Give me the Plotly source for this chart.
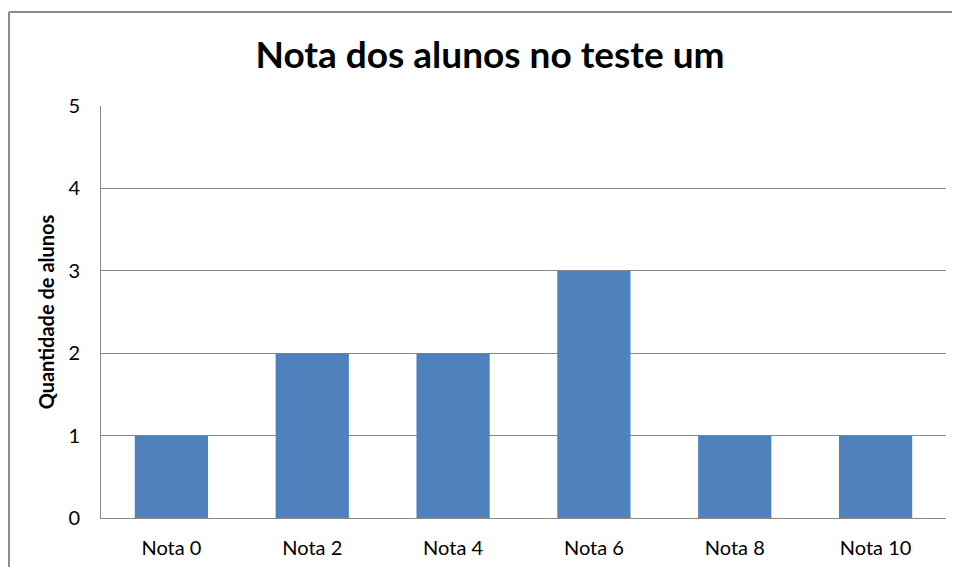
import plotly.graph_objects as go

categories = ["Nota 0", "Nota 2", "Nota 4", "Nota 6", "Nota 8", "Nota 10"]
values = [1, 2, 2, 3, 1, 1]
y_ticks = [0, 1, 2, 3, 4, 5]

W, H = 960, 567
OFF = 8  # page body margin offset
L, R, T, B = 101 - OFF, 960 - (946 - OFF), 106 - OFF, 567 - (518 - OFF)
pw, ph = W - L - R, H - T - B

def px_x(x):
    return (x - OFF - L) / pw

def px_y(y):
    return 1 - (y - OFF - T) / ph

fig = go.Figure()
fig.add_trace(go.Bar(
    x=categories, y=values,
    marker=dict(color="#4F81BD", line=dict(width=0)),
    width=0.52,
))

grid = "#888888"
fig.update_layout(
    width=W, height=H,
    margin=dict(l=L, r=R, t=T, b=B),
    paper_bgcolor="white", plot_bgcolor="white",
    showlegend=False,
    font=dict(family="Lato, Open Sans, sans-serif", color="#000000"),
    title=dict(text="<b>Nota dos alunos no teste um</b>", x=(490 - OFF) / W, xanchor="center",
               y=1 - (55 - OFF) / H, yanchor="middle", font=dict(size=37, color="#000")),
    xaxis=dict(showgrid=False, showline=True, linecolor=grid, linewidth=1,
               ticks="", tickfont=dict(size=20), ticklabelstandoff=12,
               range=[-0.5, 5.5]),
    yaxis=dict(range=[0, 5], tickvals=y_ticks, showgrid=True, gridcolor=grid,
               gridwidth=1, showline=True, linecolor=grid, linewidth=1,
               ticks="", tickfont=dict(size=20), ticklabelstandoff=16, zeroline=False,
               title=dict(text="<b>Quantidade de alunos</b>", font=dict(size=20), standoff=8)),
    shapes=[
        dict(type="line", xref="paper", yref="paper", x0=px_x(9), x1=px_x(990),
             y0=px_y(12), y1=px_y(12), line=dict(color="#8c8c8c", width=2)),
        dict(type="line", xref="paper", yref="paper", x0=px_x(9), x1=px_x(9),
             y0=px_y(12), y1=px_y(600), line=dict(color="#8c8c8c", width=2)),
    ],
)

fig.write_html("out.html")
